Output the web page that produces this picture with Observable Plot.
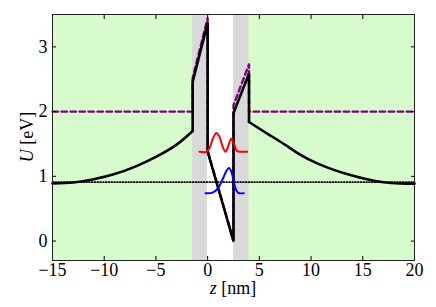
<!DOCTYPE html>
<html><head><meta charset="utf-8">
<script src="https://cdn.jsdelivr.net/npm/d3@7"></script>
<script src="https://cdn.jsdelivr.net/npm/@observablehq/plot@0.6"></script>
<style>body{margin:0;background:#fff} svg{display:block}</style>
</head><body><div id="chart"></div>
<script>
// axis setup
const zDomain = [-15, 20];
const uDomain = [-0.3, 3.5];
const xTicks = [-15, -10, -5, 0, 5, 10, 15, 20];
const yTicks = [0, 1, 2, 3];

// regions
const barriers = [{z1: -1.45, z2: 0}, {z1: 2.5, z2: 4.0}];
const well = [{z1: 0, z2: 2.5}];

// conduction band profile (black solid): left depletion, heterostructure, right depletion
const leftZ = [-15, -13, -11, -9, -7, -5, -3, -1.45];
const leftU = [0.89, 0.905, 0.955, 1.035, 1.15, 1.30, 1.49, 1.70];
const midZ = [-1.45, -1.45, 0, 0, 2.5, 2.5, 4.0, 4.0];
const midU = [1.70, 2.46, 3.37, 1.38, 0.0, 1.98, 2.59, 1.84];
const rightZ = [4.0, 5.76, 7.37, 8.98, 10.59, 12.2, 13.8, 15.4, 17.0, 18.6, 20];
const rightU = [1.84, 1.66, 1.50, 1.33, 1.20, 1.10, 1.02, 0.955, 0.91, 0.89, 0.887];

// reference profile (purple dashed)
const refZ = [-15, -1.45, -1.45, 0, 0, 2.5, 2.5, 4.0, 4.0, 20];
const refU = [2.0, 2.0, 2.52, 3.44, 1.40, 0.0, 2.1, 2.73, 2.0, 2.0];

// Fermi level (black dotted)
const fermiZ = [-15, 20];
const fermiU = [0.91, 0.91];

// states
const redZ = [-0.8, -0.1, 0.2, 0.5, 0.85, 1.15, 1.45, 1.73, 2.0, 2.28, 2.55, 2.85, 3.2, 3.83];
const redU = [1.38, 1.38, 1.44, 1.58, 1.67, 1.61, 1.46, 1.38, 1.47, 1.58, 1.50, 1.39, 1.38, 1.38];
const blueZ = [-0.2, 0.4, 0.8, 1.2, 1.55, 1.8, 2.05, 2.3, 2.5, 2.7, 2.95, 3.5];
const blueU = [0.74, 0.745, 0.78, 0.87, 0.99, 1.08, 1.13, 1.07, 0.94, 0.81, 0.745, 0.74];

const zip = (zs, us) => zs.map((z, i) => ({z, u: us[i]}));

const W = 436, H = 307, mL = 52, mR = 22, mT = 14, mB = 47;
const font = "Liberation Serif";
const fs = 18;

const svg = Plot.plot({
  width: W, height: H,
  marginLeft: mL, marginRight: mR, marginTop: mT, marginBottom: mB,
  style: {fontFamily: font, fontSize: fs + "px", background: "white", color: "#000"},
  x: {domain: zDomain},
  y: {domain: uDomain},
  marks: [
    Plot.frame({fill: "#d8fbcd", stroke: null}),
    Plot.rect(barriers, {x1: "z1", x2: "z2", fill: "#d9d9d9"}),
    Plot.rect(well, {x1: "z1", x2: "z2", fill: "#ffffff"}),
    Plot.line(zip(fermiZ, fermiU), {x: "z", y: "u", stroke: "#000", strokeWidth: 1.6, strokeDasharray: "1,1.8"}),
    Plot.line(zip(refZ, refU), {x: "z", y: "u", stroke: "#800080", strokeWidth: 2.4, strokeDasharray: "5.5,3.5"}),
    Plot.line(zip(leftZ, leftU), {x: "z", y: "u", stroke: "#000", strokeWidth: 2.6, curve: "natural"}),
    Plot.line(zip(midZ, midU), {x: "z", y: "u", stroke: "#000", strokeWidth: 2.6, strokeLinejoin: "miter"}),
    Plot.line(zip(rightZ, rightU), {x: "z", y: "u", stroke: "#000", strokeWidth: 2.6, curve: "natural"}),
    Plot.line(zip(redZ, redU), {x: "z", y: "u", stroke: "#ff0000", strokeWidth: 2, curve: "catmull-rom"}),
    Plot.line(zip(blueZ, blueU), {x: "z", y: "u", stroke: "#0000ff", strokeWidth: 2, curve: "catmull-rom"}),
    Plot.axisX(xTicks, {anchor: "bottom", tickSize: 0, tickPadding: 3, label: null, fontFamily: font, fontSize: fs}),
    Plot.axisY(yTicks, {anchor: "left", tickSize: 0, tickPadding: 5, label: null, tickFormat: d => String(d), fontFamily: font, fontSize: fs}),
    Plot.axisX(xTicks, {anchor: "bottom", tickSize: -4, tickFormat: () => "", label: null}),
    Plot.axisX(xTicks, {anchor: "top", tickSize: -4, tickFormat: () => "", label: null}),
    Plot.axisY(yTicks, {anchor: "left", tickSize: -4, tickFormat: () => "", label: null}),
    Plot.axisY(yTicks, {anchor: "right", tickSize: -4, tickFormat: () => "", label: null}),
    Plot.frame({stroke: "#222", strokeWidth: 1})
  ]
});

const sel = d3.select(svg);
const xl = sel.append("text")
  .attr("x", (mL + (W - mR)) / 2).attr("y", H - 13)
  .attr("text-anchor", "middle")
  .attr("font-family", font).attr("font-size", fs);
xl.append("tspan").attr("font-style", "italic").text("z");
xl.append("tspan").text(" [nm]");

const yl = sel.append("text")
  .attr("transform", `translate(${33},${(mT + (H - mB)) / 2}) rotate(-90)`)
  .attr("text-anchor", "middle")
  .attr("font-family", font).attr("font-size", fs);
yl.append("tspan").attr("font-style", "italic").text("U");
yl.append("tspan").text(" [eV]");

document.getElementById("chart").appendChild(svg);
</script>
</body></html>
